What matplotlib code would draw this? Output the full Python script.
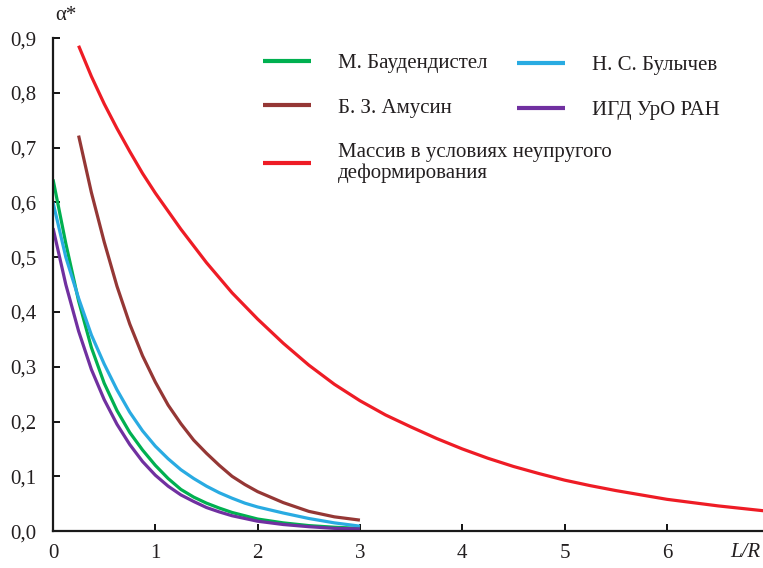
import matplotlib.pyplot as plt
from matplotlib.ticker import FuncFormatter

plt.rcParams["font.family"] = ["Liberation Serif", "DejaVu Serif"]

# values
x_short = [0, 0.125, 0.25, 0.375, 0.5, 0.625, 0.75, 0.875, 1, 1.125, 1.25, 1.375, 1.5, 1.625,
           1.75, 1.875, 2, 2.25, 2.5, 2.75, 3]
baudendistel = [0.642, 0.525, 0.42, 0.335, 0.27, 0.22, 0.18, 0.148, 0.12, 0.096, 0.076, 0.062,
                0.051, 0.042, 0.034, 0.028, 0.022, 0.015, 0.01, 0.007, 0.005]
bulychev = [0.60, 0.50, 0.425, 0.358, 0.305, 0.258, 0.217, 0.183, 0.155, 0.132, 0.112, 0.096,
            0.082, 0.07, 0.06, 0.051, 0.044, 0.033, 0.023, 0.015, 0.009]
igd = [0.553, 0.45, 0.365, 0.295, 0.24, 0.195, 0.158, 0.127, 0.102, 0.082, 0.066, 0.054,
       0.043, 0.035, 0.028, 0.023, 0.018, 0.012, 0.008, 0.005, 0.004]

x_amusin = [0.25, 0.375, 0.5, 0.625, 0.75, 0.875, 1, 1.125, 1.25, 1.375, 1.5, 1.625, 1.75, 1.875,
            2, 2.25, 2.5, 2.75, 3]
amusin = [0.722, 0.618, 0.528, 0.447, 0.378, 0.32, 0.272, 0.23, 0.196, 0.166, 0.142, 0.12, 0.1,
          0.085, 0.072, 0.052, 0.036, 0.026, 0.02]

x_massiv = [0.25, 0.375, 0.5, 0.625, 0.75, 0.875, 1, 1.25, 1.5, 1.75, 2, 2.25, 2.5, 2.75, 3, 3.25, 3.5,
            3.75, 4, 4.25, 4.5, 4.75, 5, 5.25, 5.5, 5.75, 6, 6.25, 6.5, 6.75, 7]
massiv = [0.886, 0.83, 0.78, 0.735, 0.693, 0.653, 0.617, 0.551, 0.49, 0.435, 0.387, 0.343, 0.303,
          0.268, 0.238, 0.212, 0.19, 0.169, 0.15, 0.133, 0.118, 0.105, 0.093, 0.083, 0.074, 0.066,
          0.058, 0.052, 0.046, 0.041, 0.036]

labels = ["М. Баудендистел", "Б. З. Амусин",
          "Массив в условиях неупругого\nдеформирования",
          "Н. С. Булычев", "ИГД УрО РАН"]
colors = ["#00B050", "#953735", "#EE1C25", "#29ABE2", "#7030A0"]

text_color = "#231F20"

fig = plt.figure(figsize=(7.63, 5.68), dpi=100)
ax = fig.add_axes([0.0695, 0.065, 0.9305, 0.868])

lw = 2.3
l1, = ax.plot(x_short, baudendistel, color=colors[0], lw=lw, solid_capstyle="butt")
l4, = ax.plot(x_short, bulychev, color=colors[3], lw=lw, solid_capstyle="butt")
l5, = ax.plot(x_short, igd, color=colors[4], lw=lw, solid_capstyle="butt")
l2, = ax.plot(x_amusin, amusin, color=colors[1], lw=lw, solid_capstyle="butt")
l3, = ax.plot(x_massiv, massiv, color=colors[2], lw=lw, solid_capstyle="butt")

ax.set_xlim(0, 6.94)
ax.set_ylim(0, 0.9)
ax.set_xticks(range(0, 7))
ax.set_yticks([i / 10 for i in range(10)])
ax.yaxis.set_major_formatter(FuncFormatter(lambda v, p: f"{v:.1f}".replace(".", ",")))

for s in ["top", "right"]:
    ax.spines[s].set_visible(False)
for s in ["left", "bottom"]:
    ax.spines[s].set_linewidth(1.6)
    ax.spines[s].set_color("#1a1a1a")
ax.tick_params(direction="in", length=5, width=1.3, labelsize=15, labelcolor=text_color)
ax.tick_params(axis="x", pad=9)
ax.tick_params(axis="y", pad=12)

fig.text(0.072, 0.972, "α*", fontsize=15, color=text_color, ha="left", va="center")
fig.text(0.997, 0.028, "L/R", fontsize=15, style="italic", color=text_color,
         ha="right", va="center")

common = dict(frameon=False, loc="upper left", fontsize=15, handlelength=2.3,
              handletextpad=1.3, labelspacing=1.2, borderpad=0, borderaxespad=0)
leg1 = ax.legend([l1, l2, l3], labels[:3], bbox_to_anchor=(0.296, 0.969), **common)
ax.add_artist(leg1)
leg2 = ax.legend([l4, l5], labels[3:], bbox_to_anchor=(0.654, 0.964), **common)
for leg in (leg1, leg2):
    for t in leg.get_texts():
        t.set_color(text_color)
        t.set_linespacing(1.15)
    for h in leg.legend_handles:
        h.set_linewidth(3)

fig.savefig("out.png", dpi=100)
